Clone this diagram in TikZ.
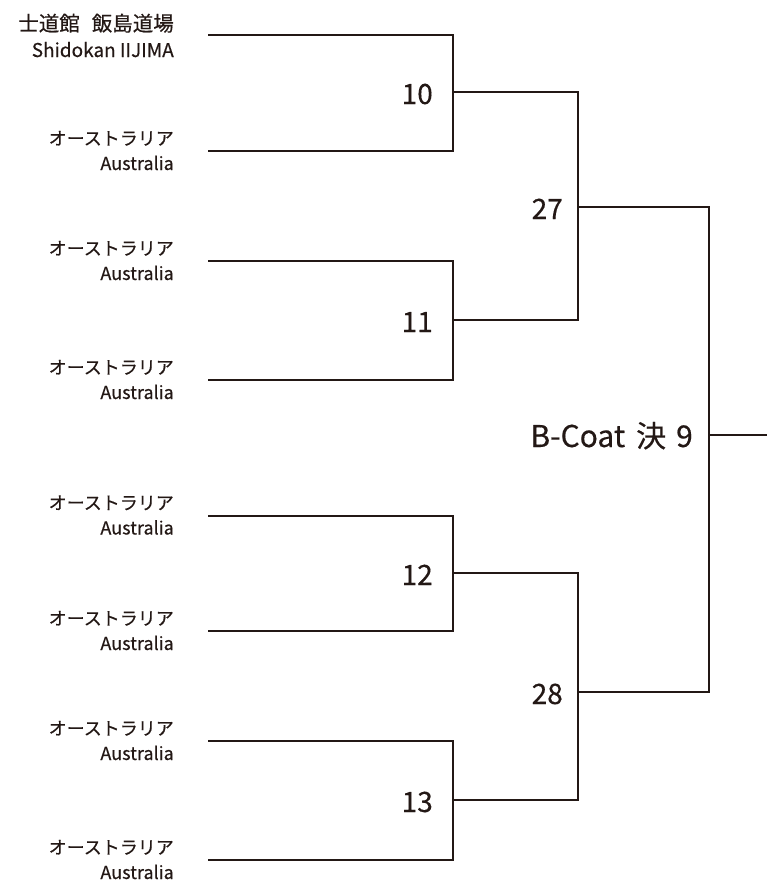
\documentclass[tikz,border=0pt]{standalone}
\usepackage{fontspec}
\newfontfamily\jp[FakeBold=0.4]{Noto Sans CJK JP}
\definecolor{ink}{HTML}{231815}
\begin{document}
\begin{tikzpicture}[x=1pt,y=-1pt,
  br/.style={draw=ink,line width=2pt},
  jpname/.style={anchor=base east,inner sep=0pt,text=ink,font=\jp\fontsize{18}{18}\selectfont},
  enname/.style={anchor=base east,inner sep=0pt,text=ink,font=\jp\fontsize{18}{18}\selectfont},
  num/.style={anchor=base east,inner sep=0pt,text=ink,font=\jp\fontsize{28}{28}\selectfont}]
\useasboundingbox (0,0) rectangle (767,886);
% entry coordinates
\coordinate (e1) at (208,35);
\coordinate (e2) at (208,151);
\coordinate (e3) at (208,261);
\coordinate (e4) at (208,380);
\coordinate (e5) at (208,515.5);
\coordinate (e6) at (208,631);
\coordinate (e7) at (208,741);
\coordinate (e8) at (208,860);
\coordinate (m10) at (453,92);
\coordinate (m11) at (453,320);
\coordinate (m12) at (453,573);
\coordinate (m13) at (453,800);
\coordinate (m27) at (578,207);
\coordinate (m28) at (578,692);
\coordinate (mf) at (709,435);
\coordinate (fin) at (767,435);
% names
\node[jpname,font=\jp\fontsize{20.5}{20.5}\selectfont] (n1) at (174,31) {士道館\hspace{12pt}飯島道場};
\node[enname,font=\jp\fontsize{19}{19}\selectfont] (n1e) at (174,57) {Shidokan IIJIMA};
\foreach \i/\y in {2/151,3/261,4/380,5/515.5,6/631,7/741,8/860}{
  \node[jpname] (n\i) at (174,\y-6) {オーストラリア};
  \node[enname] (n\i e) at (174,\y+19) {Australia};
}
% brackets
\draw[br] (e1) -| (m10) |- (e2);
\draw[br] (e3) -| (m11) |- (e4);
\draw[br] (e5) -| (m12) |- (e6);
\draw[br] (e7) -| (m13) |- (e8);
\draw[br] (m10) -| (m27) |- (m11);
\draw[br] (m12) -| (m28) |- (m13);
\draw[br] (m27) -| (mf) |- (m28);
\draw[br] (mf) -- (fin);
% match numbers
\node[num] (t10) at (433,104) {10};
\node[num] (t11) at (433,332) {11};
\node[num] (t12) at (433,585) {12};
\node[num] (t13) at (433,812) {13};
\node[num] (t27) at (563,219) {27};
\node[num] (t28) at (563,704) {28};
\node[num,font=\jp\fontsize{30}{30}\selectfont] (tf) at (693,447) {B-Coat\hspace{11pt}決\hspace{10pt}9};
\end{tikzpicture}
\end{document}
